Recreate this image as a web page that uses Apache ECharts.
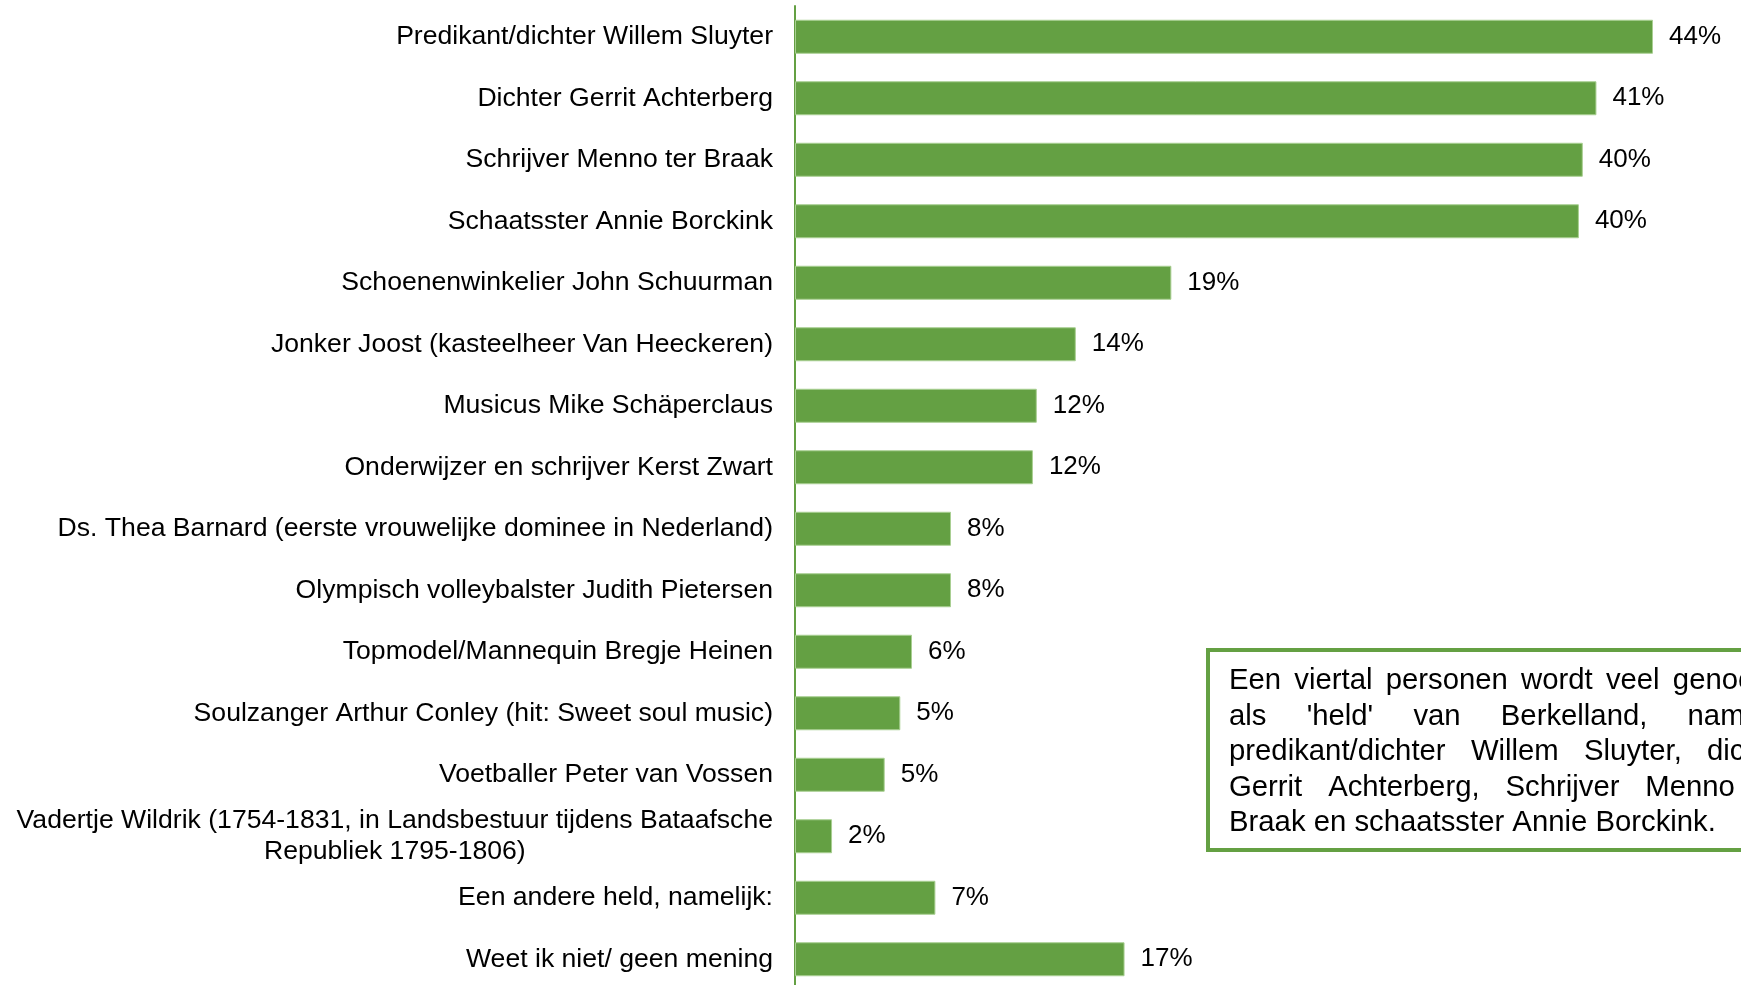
<!DOCTYPE html>
<html>
<head>
<meta charset="utf-8">
<script src="https://cdn.jsdelivr.net/npm/echarts@6/dist/echarts.min.js"></script>
<style>
html,body{margin:0;padding:0;background:#fff;}
#chart{width:1741px;height:985px;}
</style>
</head>
<body>
<div id="chart"></div>
<script>
// categorieen, van boven naar beneden
var categories = [
  'Predikant/dichter Willem Sluyter',
  'Dichter Gerrit Achterberg',
  'Schrijver Menno ter Braak',
  'Schaatsster Annie Borckink',
  'Schoenenwinkelier John Schuurman',
  'Jonker Joost (kasteelheer Van Heeckeren)',
  'Musicus Mike Schäperclaus',
  'Onderwijzer en schrijver Kerst Zwart',
  'Ds. Thea Barnard (eerste vrouwelijke dominee in Nederland)',
  'Olympisch volleybalster Judith Pietersen',
  'Topmodel/Mannequin Bregje Heinen',
  'Soulzanger Arthur Conley (hit: Sweet soul music)',
  'Voetballer Peter van Vossen',
  'Vadertje Wildrik (1754-1831, in Landsbestuur tijdens Bataafsche\nRepubliek 1795-1806)',
  'Een andere held, namelijk:',
  'Weet ik niet/ geen mening'
];
var values = [44.0, 41.1, 40.4, 40.2, 19.3, 14.4, 12.4, 12.2, 8.0, 8.0, 6.0, 5.4, 4.6, 1.9, 7.2, 16.9];

var boxLines = [
  'Een viertal personen wordt veel genoemd',
  "als 'held' van Berkelland, namelijk",
  'predikant/dichter Willem Sluyter, dichter',
  'Gerrit Achterberg, Schrijver Menno ter',
  'Braak en schaatsster Annie Borckink.'
];

var FONT = '"Liberation Sans", Arial, sans-serif';
var GREEN = '#64a043';
var LBL = 26.6;

var cv = document.createElement('canvas').getContext('2d');
function measure(txt, size){
  cv.font = size + 'px ' + FONT;
  return cv.measureText(txt).width;
}

// uitgevulde tekst in het kader
function boxText(){
  var size = 29.3, left = 1229, top = 681, lh = 35.5, W = 566;
  var els = [];
  boxLines.forEach(function(line, i){
    var words = line.split(' ');
    var y = top + i * lh;
    if (i === boxLines.length - 1){
      els.push({type:'text', x:left, y:y, style:{text:line, font:size+'px '+FONT, fill:'#000', textVerticalAlign:'middle'}});
      return;
    }
    var sum = 0;
    words.forEach(function(w){ sum += measure(w, size); });
    var gap = (W - sum) / (words.length - 1);
    var x = left;
    words.forEach(function(w){
      els.push({type:'text', x:x, y:y, style:{text:w, font:size+'px '+FONT, fill:'#000', textVerticalAlign:'middle'}});
      x += measure(w, size) + gap;
    });
  });
  return els;
}

var wrapW = measure(categories[13].split('\n')[0], LBL);

var chart = echarts.init(document.getElementById('chart'));
chart.setOption({
  animation: false,
  grid: {left: 795, top: 6, height: 984, right: 10, containLabel: false, outerBoundsMode: 'none'},
  xAxis: {
    type: 'value', min: 0, max: 48,
    show: false
  },
  yAxis: {
    type: 'category', inverse: true,
    data: categories,
    axisLine: {lineStyle: {color: GREEN, width: 2}},
    axisTick: {show: false},
    axisLabel: {
      margin: 22,
      fontSize: LBL, fontFamily: FONT, color: '#000', lineHeight: 31,
      formatter: function(v){
        if (v.indexOf('\n') < 0) return v;
        return v.split('\n').map(function(s){ return '{c|' + s + '}'; }).join('\n');
      },
      rich: {c: {width: wrapW, align: 'center', fontSize: LBL, fontFamily: FONT, color: '#000', lineHeight: 31}}
    }
  },
  series: [{
    type: 'bar',
    data: values,
    barWidth: 34,
    itemStyle: {color: GREEN, borderColor: '#a9cf92', borderWidth: 1},
    label: {
      show: true, position: 'right', distance: 16,
      fontSize: 26, fontFamily: FONT, color: '#000',
      formatter: function(p){ return Math.round(p.value) + '%'; }
    }
  }],
  graphic: [{
    type: 'rect',
    shape: {x: 1208, y: 650, width: 605, height: 200},
    style: {fill: '#fff', stroke: GREEN, lineWidth: 4}
  }].concat(boxText())
});
</script>
</body>
</html>
